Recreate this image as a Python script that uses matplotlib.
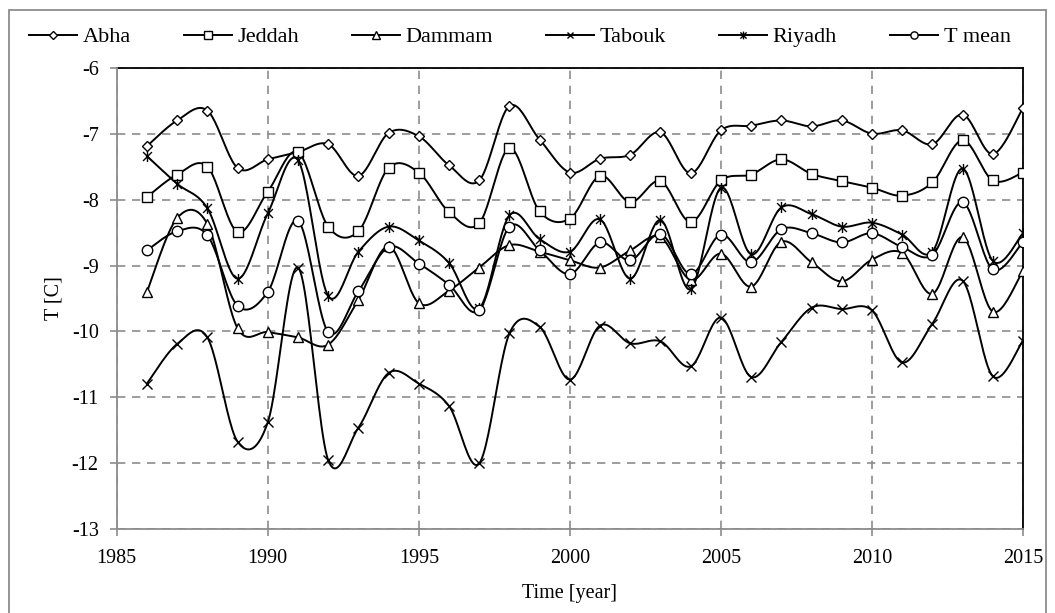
import numpy as np
import matplotlib
matplotlib.use("Agg")
import matplotlib.pyplot as plt
from matplotlib.path import Path
from matplotlib.lines import Line2D
from matplotlib.patches import Rectangle

years = list(range(1986, 2016))

abha = [-7.19, -6.80, -6.65, -7.52, -7.39, -7.28, -7.16, -7.64, -6.99, -7.04,
        -7.48, -7.71, -6.58, -7.09, -7.59, -7.38, -7.32, -6.98, -7.60, -6.95,
        -6.88, -6.80, -6.89, -6.80, -7.00, -6.95, -7.16, -6.71, -7.31, -6.61]
jeddah = [-7.96, -7.62, -7.50, -8.49, -7.88, -7.28, -8.41, -8.48, -7.52, -7.59,
          -8.19, -8.36, -7.22, -8.18, -8.29, -7.64, -8.04, -7.72, -8.34, -7.71,
          -7.62, -7.39, -7.61, -7.72, -7.82, -7.94, -7.74, -7.10, -7.71, -7.59]
dammam = [-9.40, -8.28, -8.37, -9.95, -10.01, -10.09, -10.20, -9.52, -8.71, -9.57,
          -9.38, -9.03, -8.69, -8.79, -8.92, -9.03, -8.77, -8.57, -9.22, -8.82,
          -9.32, -8.64, -8.95, -9.24, -8.91, -8.81, -9.43, -8.57, -9.70, -9.08]
tabouk = [-10.79, -10.19, -10.09, -11.67, -11.38, -9.03, -11.95, -11.46, -10.63, -10.79,
          -11.13, -12.00, -10.03, -9.93, -10.73, -9.91, -10.18, -10.15, -10.53, -9.79,
          -10.69, -10.16, -9.64, -9.66, -9.68, -10.47, -9.88, -9.23, -10.68, -10.14]
riyadh = [-7.34, -7.76, -8.13, -9.20, -8.21, -7.40, -9.46, -8.79, -8.41, -8.62,
          -8.96, -9.65, -8.24, -8.60, -8.79, -8.30, -9.20, -8.31, -9.36, -7.82,
          -8.83, -8.12, -8.22, -8.41, -8.35, -8.53, -8.79, -7.53, -8.93, -8.51]
tmean = [-8.77, -8.48, -8.54, -9.61, -9.40, -8.32, -10.01, -9.39, -8.72, -8.97,
         -9.29, -9.68, -8.41, -8.77, -9.13, -8.65, -8.92, -8.52, -9.13, -8.53,
         -8.95, -8.45, -8.51, -8.65, -8.51, -8.72, -8.84, -8.04, -9.06, -8.64]

series_names = ["Abha", "Jeddah", "Dammam", "Tabouk", "Riyadh", "T mean"]
series_values = [abha, jeddah, dammam, tabouk, riyadh, tmean]

x_ticks = [1985, 1990, 1995, 2000, 2005, 2010, 2015]
y_ticks = [-13, -12, -11, -10, -9, -8, -7, -6]

asterisk = Path([(0, -1), (0, 1), (-0.8, -0.8), (0.8, 0.8), (-0.8, 0.8), (0.8, -0.8)],
                [Path.MOVETO, Path.LINETO, Path.MOVETO, Path.LINETO, Path.MOVETO, Path.LINETO])

styles = {
    "Abha": dict(marker="D", ms=5.5),
    "Jeddah": dict(marker="s", ms=7.5),
    "Dammam": dict(marker="^", ms=7.5),
    "Tabouk": dict(marker="x", ms=7),
    "Riyadh": dict(marker=asterisk, ms=8),
    "T mean": dict(marker="o", ms=7.5),
}


def smooth(xs, ys, n=24):
    """Excel-style smoothed line: Catmull-Rom Bezier segments through the points."""
    xs = np.asarray(xs, float)
    ys = np.asarray(ys, float)
    P = np.column_stack([xs, ys])
    out = [P[0]]
    t = np.linspace(0, 1, n)[1:]
    for i in range(len(P) - 1):
        p0 = P[i - 1] if i > 0 else P[i]
        p1 = P[i]
        p2 = P[i + 1]
        p3 = P[i + 2] if i + 2 < len(P) else P[i + 1]
        c1 = p1 + (p2 - p0) / 6.0
        c2 = p2 - (p3 - p1) / 6.0
        tt = t[:, None]
        seg = ((1 - tt) ** 3) * p1 + 3 * ((1 - tt) ** 2) * tt * c1 + 3 * (1 - tt) * tt ** 2 * c2 + tt ** 3 * p2
        out.extend(seg)
    out = np.array(out)
    return out[:, 0], out[:, 1]


plt.rcParams['font.family'] = ['Liberation Serif', 'DejaVu Serif']
W, H = 1055, 613
fig = plt.figure(figsize=(W / 100, H / 100), dpi=100)

# outer chart border
fig.patches.append(Rectangle((9 / W, -0.02), (1046 - 9) / W, 1.02 - 10 / H, transform=fig.transFigure,
                             fill=False, edgecolor="#8c8c8c", linewidth=1.3, zorder=0))

ax = fig.add_axes([116.7 / W, 1 - 529.3 / H, (1023 - 116.7) / W, (529.3 - 67.7) / H])

handles = []
for name, vals in zip(series_names, series_values):
    st = styles[name]
    sx, sy = smooth(years, vals)
    ax.plot(sx, sy, color="black", lw=1.4, zorder=3)
    ax.plot(years, vals, linestyle="none", marker=st["marker"], ms=st["ms"],
            mfc="white", mec="black", mew=1.0, zorder=4)
    handles.append(Line2D([], [], color="black", lw=1.4, marker=st["marker"],
                          ms=st["ms"] * 0.7, mfc="white", mec="black", mew=1.0))

ax.set_xlim(1985, 2015)
ax.set_ylim(-13, -6)
ax.set_xticks(x_ticks)
ax.set_yticks(y_ticks)
ax.set_xticklabels([str(v) for v in x_ticks])
ax.set_yticklabels([str(v) for v in y_ticks])
ax.grid(True, color="#8c8c8c", linestyle=(0, (5, 4)), linewidth=1.2)
ax.set_axisbelow(True)
for s in ["top", "right"]:
    ax.spines[s].set_color("black")
    ax.spines[s].set_linewidth(1.3)
for s in ["left", "bottom"]:
    ax.spines[s].set_color("#8c8c8c")
    ax.spines[s].set_linewidth(1.3)
    ax.spines[s].set_zorder(5)
ax.tick_params(axis="both", direction="out", length=5, width=1.2, color="#8c8c8c",
               labelsize=14.5, labelcolor="black")
ax.tick_params(axis="y", pad=8)
ax.tick_params(axis="x", pad=9)

ax.set_xlabel("Time [year]", fontsize=14.5, labelpad=12)
ax.set_ylabel("T [C]", fontsize=14.5, labelpad=6)

fig.legend(handles, series_names, loc="center left", bbox_to_anchor=(29 / W, 1 - 37 / H),
           ncol=6, frameon=False, fontsize=16, handlelength=2.15, handletextpad=0.25,
           columnspacing=2.4, borderpad=0, borderaxespad=0)

fig.savefig("out.png", dpi=100)
